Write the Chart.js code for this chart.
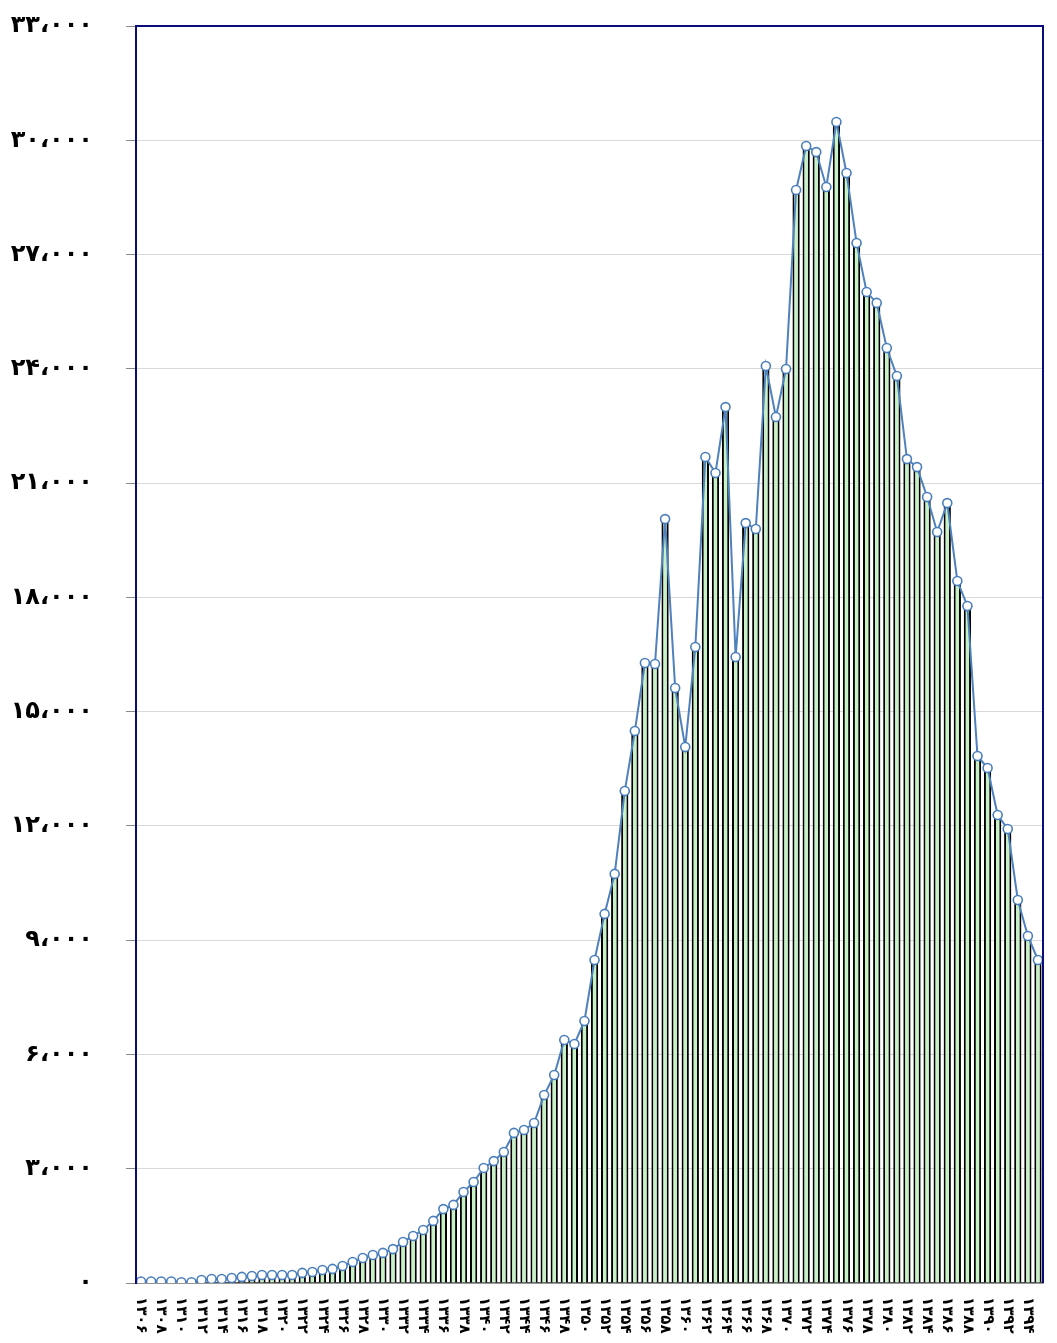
<!DOCTYPE html>
<html>
<head>
<meta charset="utf-8">
<script src="https://cdn.jsdelivr.net/npm/chart.js@4.4.1/dist/chart.umd.min.js"></script>
<style>
  html, body { margin: 0; padding: 0; background: #ffffff; }
  #wrap { width: 1057px; height: 1343px; }
</style>
</head>
<body>
<div id="wrap"><canvas id="c" width="1057" height="1343"></canvas></div>
<script>
// Categories: years 1306..1395 (Persian digits)
const firstYear = 1306;
const lastYear = 1395;
const faDigits = '۰۱۲۳۴۵۶۷۸۹';
const toFa = s => String(s).replace(/\d/g, d => faDigits[d]);
const years = [];
for (let y = firstYear; y <= lastYear; y++) years.push(y);
const categories = years.map(toFa);

// Series values
const values = [
  40, 40, 40, 40, 20, 20, 80, 105, 105, 130,
  160, 185, 210, 210, 210, 210, 265, 290, 340, 370,
  445, 550, 655, 735, 790, 890, 1075, 1235, 1390, 1630,
  1940, 2050, 2390, 2650, 3020, 3200, 3440, 3940, 4015, 4200,
  4935, 5460, 6380, 6275, 6880, 8480, 9690, 10740, 12915, 14490,
  16275, 16250, 20055, 15620, 14070, 16695, 21685, 21265, 22995, 16435,
  19950, 19795, 24075, 22735, 23995, 28695, 29850, 29690, 28775, 30480,
  29140, 27305, 26015, 25730, 24545, 23810, 21630, 21420, 20635, 19715,
  20475, 18430, 17775, 13835, 13520, 12285, 11920, 10055, 9110, 8480
];

// Y tick values and labels
const yTickValues = [0, 3000, 6000, 9000, 12000, 15000, 18000, 21000, 24000, 27000, 30000, 33000];
const yTickLabels = ['۰', '۳،۰۰۰', '۶،۰۰۰', '۹،۰۰۰', '۱۲،۰۰۰', '۱۵،۰۰۰', '۱۸،۰۰۰', '۲۱،۰۰۰', '۲۴،۰۰۰', '۲۷،۰۰۰', '۳۰،۰۰۰', '۳۳،۰۰۰'];

const frameAndLabels = {
  id: 'frameAndLabels',
  afterDraw(chart) {
    const ctx = chart.ctx;
    const a = chart.chartArea;
    const xs = chart.scales.x;
    ctx.save();
    // navy frame (left, top, right)
    ctx.strokeStyle = '#0b0b7a';
    ctx.lineWidth = 2;
    ctx.beginPath();
    ctx.moveTo(a.left, a.bottom);
    ctx.lineTo(a.left, a.top);
    ctx.lineTo(a.right, a.top);
    ctx.lineTo(a.right, a.bottom);
    ctx.stroke();
    // rotated x labels (every second category), reading top to bottom
    ctx.fillStyle = '#000';
    ctx.font = 'bold 15px "DejaVu Sans"';
    ctx.textAlign = 'left';
    ctx.textBaseline = 'middle';
    for (let i = 0; i < categories.length; i += 2) {
      const x = xs.getPixelForValue(i);
      ctx.save();
      ctx.translate(x, a.bottom + 14);
      ctx.rotate(Math.PI / 2);
      ctx.fillText(categories[i], 0, 0);
      ctx.restore();
    }
    ctx.restore();
  }
};

new Chart(document.getElementById('c'), {
  data: {
    labels: categories,
    datasets: [
      {
        type: 'line',
        data: values,
        order: 0,
        borderColor: '#4f81bd',
        borderWidth: 2,
        tension: 0,
        pointRadius: 4.5,
        pointBackgroundColor: '#ffffff',
        pointBorderColor: '#4a7ebb',
        pointBorderWidth: 1.6
      },
      {
        type: 'bar',
        data: values,
        order: 1,
        backgroundColor: '#c6f2c6',
        borderColor: '#000000',
        borderWidth: 2,
        borderSkipped: 'start',
        barPercentage: 0.72,
        categoryPercentage: 1.0
      }
    ]
  },
  options: {
    responsive: false,
    animation: false,
    devicePixelRatio: 1,
    layout: { padding: { left: 0, right: 14, top: 26, bottom: 0 } },
    plugins: { legend: { display: false }, tooltip: { enabled: false } },
    scales: {
      x: {
        type: 'category',
        offset: true,
        grid: { display: false, drawTicks: false },
        border: { display: true, color: '#555555', width: 1.5 },
        ticks: { display: false },
        afterFit(scale) { scale.height = 60; scale.paddingLeft = 0; scale.paddingRight = 0; }
      },
      y: {
        min: 0,
        max: 33000,
        grid: { color: '#d9d9d9', lineWidth: 1, tickLength: 10, tickColor: '#8a8a8a', drawTicks: true },
        border: { display: true, color: '#0b0b7a', width: 2 },
        ticks: {
          stepSize: 3000,
          padding: 33,
          color: '#000',
          font: { family: 'DejaVu Sans', weight: 'bold', size: 24 },
          callback: (v) => {
            const k = yTickValues.indexOf(v);
            return k >= 0 ? yTickLabels[k] : '';
          }
        },
        afterFit(scale) { scale.width = 136; scale.paddingTop = 0; scale.paddingBottom = 0; }
      }
    }
  },
  plugins: [frameAndLabels]
});
</script>
</body>
</html>
